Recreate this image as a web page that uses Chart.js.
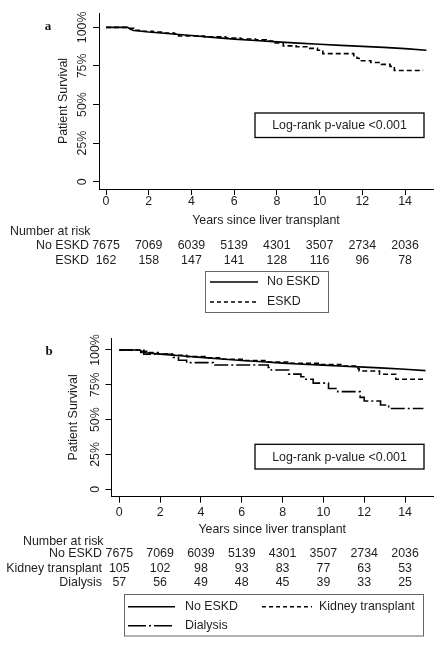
<!DOCTYPE html>
<html><head><meta charset="utf-8">
<script src="https://cdn.jsdelivr.net/npm/chart.js@4.4.1/dist/chart.umd.min.js"></script>
<style>
html,body{margin:0;padding:0;background:#fff;width:446px;height:646px;overflow:hidden;}
canvas{position:absolute;left:0;}
#ca{top:0px;} #cb{top:320px;}
</style></head><body>
<canvas id="ca" width="446" height="320"></canvas>
<canvas id="cb" width="446" height="326"></canvas>
<script>
// ---- shared axes ----
const xTicks = [0, 2, 4, 6, 8, 10, 12, 14];
const yTicks = [0, 25, 50, 75, 100];
const riskTimes = [0, 2, 4, 6, 8, 10, 12, 14];
const pValueText = 'Log-rank p-value <0.001';

// ---- No ESKD (same group in both panels) ----
const noEskdTime = [0, 1.0, 1.15, 1.3, 2, 3, 4, 5, 6, 7, 8, 9, 10, 11, 12, 13, 14, 15];
const noEskdSurv = [100, 100, 98.8, 98.0, 97.0, 95.9, 94.7, 93.5, 92.4, 91.5, 90.6, 89.8, 89.1, 88.3, 87.7, 87.0, 86.2, 85.2];

// ---- Panel a: ESKD ----
const eskdTime = [0, 1.1, 1.3, 1.7, 2.2, 2.7, 3.2, 3.4, 4.6, 5.6, 6.3, 7.0, 7.5, 7.8, 8.3, 8.9, 9.4, 9.9, 10.15, 11.6, 11.75, 11.85, 12.4, 12.9, 13.3, 13.5, 14.85];
const eskdSurv = [100, 99.4, 98.1, 97.5, 96.9, 96.3, 95.7, 94.4, 93.8, 93.1, 92.5, 91.9, 91.2, 89.9, 88.0, 87.4, 86.4, 85.2, 83.0, 81.6, 80.0, 78.4, 77.2, 76.0, 74.7, 72.0, 72.0];

// ---- Panel b: Kidney transplant, Dialysis ----
const kidneyTime = [0, 1.2, 1.35, 1.9, 2.6, 3.3, 4.2, 5.0, 6.1, 7.3, 8.4, 9.8, 11.0, 11.7, 11.75, 12.75, 13.55, 14.9];
const kidneySurv = [100, 99.0, 98.1, 97.1, 96.2, 95.2, 94.3, 93.3, 92.4, 91.4, 90.5, 89.5, 88.5, 86.6, 84.9, 82.6, 79.0, 79.0];
const dialysisTime = [0, 1.05, 1.2, 2.65, 2.9, 3.3, 4.6, 7.3, 7.45, 8.3, 8.9, 9.1, 9.5, 10.25, 10.7, 11.8, 12.0, 12.8, 13.2, 14.9];
const dialysisSurv = [100, 98.2, 96.9, 94.7, 92.6, 90.9, 89.2, 87.4, 85.6, 82.7, 80.8, 79.0, 76.2, 72.3, 70.1, 66.0, 63.4, 60.5, 58.0, 58.0];

// ---- Numbers at risk ----
const riskNoEskd = [7675, 7069, 6039, 5139, 4301, 3507, 2734, 2036];
const riskEskd = [162, 158, 147, 141, 128, 116, 96, 78];
const riskKidney = [105, 102, 98, 93, 83, 77, 63, 53];
const riskDialysis = [57, 56, 49, 48, 45, 39, 33, 25];

const FONT = '"Liberation Sans", Arial, sans-serif';
const FS = 12.4;
const TXT = '#1e1e1e';
const DASH = [5, 3];
const DASHDOT = [14, 3, 2, 3];

function pts(t, s) { return t.map((v, i) => ({x: v, y: s[i]})); }

const extrasPlugin = {
  id: 'extras',
  afterDraw(chart) {
    const e = chart.options.plugins.extras;
    const ctx = chart.ctx;
    const xs = chart.scales.x;
    ctx.save();
    // panel letter
    ctx.fillStyle = '#111';
    ctx.font = 'bold 13px "Liberation Serif", "Times New Roman", serif';
    ctx.textAlign = 'center'; ctx.textBaseline = 'middle';
    ctx.fillText(e.letter, e.letterX, e.letterY);
    // p-value box
    ctx.strokeStyle = '#000'; ctx.lineWidth = 1.3; ctx.setLineDash([]);
    ctx.strokeRect(e.pBox.x, e.pBox.y, e.pBox.w, e.pBox.h);
    ctx.fillStyle = TXT;
    ctx.font = FS + 'px ' + FONT;
    ctx.fillText(pValueText, e.pBox.x + e.pBox.w / 2, e.pBox.y + e.pBox.h / 2 + 0.5);
    // number at risk
    ctx.textAlign = 'left';
    ctx.fillText('Number at risk', e.riskTitleX, e.riskTitleY);
    e.riskRows.forEach(r => {
      ctx.textAlign = 'right';
      ctx.fillText(r.label, e.riskLabelX, r.y);
      ctx.textAlign = 'center';
      r.values.forEach((v, i) => ctx.fillText(String(v), xs.getPixelForValue(riskTimes[i]), r.y));
    });
    // legend
    const L = e.legend;
    ctx.strokeStyle = '#666'; ctx.lineWidth = 1;
    ctx.strokeRect(L.x + 0.5, L.y + 0.5, L.w, L.h);
    L.items.forEach(it => {
      ctx.strokeStyle = '#000'; ctx.lineWidth = 1.5;
      ctx.setLineDash(it.dash);
      ctx.beginPath(); ctx.moveTo(it.x1, it.y); ctx.lineTo(it.x2, it.y); ctx.stroke();
      ctx.setLineDash([]);
      ctx.textAlign = 'left'; ctx.fillStyle = TXT;
      ctx.fillText(it.label, it.tx, it.y);
    });
    ctx.restore();
  }
};

function makeChart(id, p) {
  return new Chart(document.getElementById(id), {
    type: 'line',
    data: { datasets: p.datasets },
    options: {
      responsive: false, animation: false, devicePixelRatio: 1,
      layout: { padding: { left: p.padL, top: p.padT, right: p.padR, bottom: p.padB } },
      plugins: { legend: { display: false }, tooltip: { enabled: false }, extras: p.extras },
      elements: { point: { radius: 0 }, line: { tension: 0 } },
      scales: {
        x: {
          type: 'linear', min: p.xMin, max: p.xMax,
          afterBuildTicks: s => { s.ticks = xTicks.map(v => ({value: v})); },
          afterFit: s => { s.height = p.xH; },
          grid: { display: true, drawOnChartArea: false, drawTicks: true, tickLength: 6, color: '#000', lineWidth: 1 },
          border: { display: true, color: '#000', width: 1 },
          ticks: { padding: p.xTickPad, color: TXT, font: { family: FONT, size: FS }, maxRotation: 0, autoSkip: false },
          title: { display: true, text: 'Years since liver transplant', color: TXT, font: { family: FONT, size: FS }, padding: 0 }
        },
        y: {
          type: 'linear', min: p.yMin, max: p.yMax,
          afterBuildTicks: s => { s.ticks = yTicks.map(v => ({value: v})); },
          afterFit: s => { s.width = p.yW; },
          grid: { display: true, drawOnChartArea: false, drawTicks: true, tickLength: 6, color: '#000', lineWidth: 1 },
          border: { display: true, color: '#000', width: 1 },
          ticks: { padding: p.yTickPad, crossAlign: 'center', minRotation: 90, maxRotation: 90, color: TXT,
                   font: { family: FONT, size: FS }, callback: v => (v === 0 ? '0' : v + '%') },
          title: { display: true, text: 'Patient Survival', color: TXT, font: { family: FONT, size: FS }, padding: 0 }
        }
      }
    },
    plugins: [extrasPlugin]
  });
}

// ---- Panel a ----
makeChart('ca', {
  padL: 56.6, padT: 13, padR: 13, padB: 91.6, yW: 42.4, xH: 39.4,
  xMin: -0.328, xMax: 15.31, yMin: -4.73, yMax: 109.3, xTickPad: -0.4, yTickPad: -5.6,
  datasets: [
    { label: 'No ESKD', data: pts(noEskdTime, noEskdSurv), borderColor: '#000', borderWidth: 1.6, stepped: false },
    { label: 'ESKD', data: pts(eskdTime, eskdSurv), borderColor: '#000', borderWidth: 1.6, borderDash: DASH, stepped: true }
  ],
  extras: {
    letter: 'a', letterX: 48, letterY: 27,
    pBox: { x: 255, y: 113, w: 169, h: 24.5 },
    riskTitleX: 10, riskTitleY: 232, riskLabelX: 89,
    riskRows: [ { label: 'No ESKD', values: riskNoEskd, y: 246 }, { label: 'ESKD', values: riskEskd, y: 261 } ],
    legend: { x: 205, y: 271, w: 123, h: 41, items: [
      { label: 'No ESKD', dash: [], x1: 210, x2: 258, tx: 267, y: 282 },
      { label: 'ESKD', dash: [4, 3], x1: 210, x2: 258, tx: 267, y: 302 } ] }
  }
});

// ---- Panel b ----
makeChart('cb', {
  padL: 66.6, padT: 18, padR: 13, padB: 108.6, yW: 44.9, xH: 40.7,
  xMin: -0.382, xMax: 15.37, yMin: -5.31, yMax: 108.6, xTickPad: 2.5, yTickPad: -6.1,
  datasets: [
    { label: 'No ESKD', data: pts(noEskdTime, noEskdSurv), borderColor: '#000', borderWidth: 1.6, stepped: false },
    { label: 'Kidney transplant', data: pts(kidneyTime, kidneySurv), borderColor: '#000', borderWidth: 1.6, borderDash: DASH, stepped: true },
    { label: 'Dialysis', data: pts(dialysisTime, dialysisSurv), borderColor: '#000', borderWidth: 1.6, borderDash: DASHDOT, stepped: true }
  ],
  extras: {
    letter: 'b', letterX: 49, letterY: 32,
    pBox: { x: 255, y: 124.3, w: 169, h: 24.7 },
    riskTitleX: 23, riskTitleY: 221.7, riskLabelX: 102,
    riskRows: [ { label: 'No ESKD', values: riskNoEskd, y: 234 },
                { label: 'Kidney transplant', values: riskKidney, y: 249 },
                { label: 'Dialysis', values: riskDialysis, y: 262.7 } ],
    legend: { x: 124, y: 274, w: 299, h: 41.5, items: [
      { label: 'No ESKD', dash: [], x1: 128, x2: 175, tx: 185, y: 286.7 },
      { label: 'Kidney transplant', dash: [4, 3], x1: 262, x2: 312, tx: 319, y: 286.7 },
      { label: 'Dialysis', dash: [18, 3, 2, 3], x1: 128, x2: 175, tx: 185, y: 305.7 } ] }
  }
});
</script>
</body></html>
